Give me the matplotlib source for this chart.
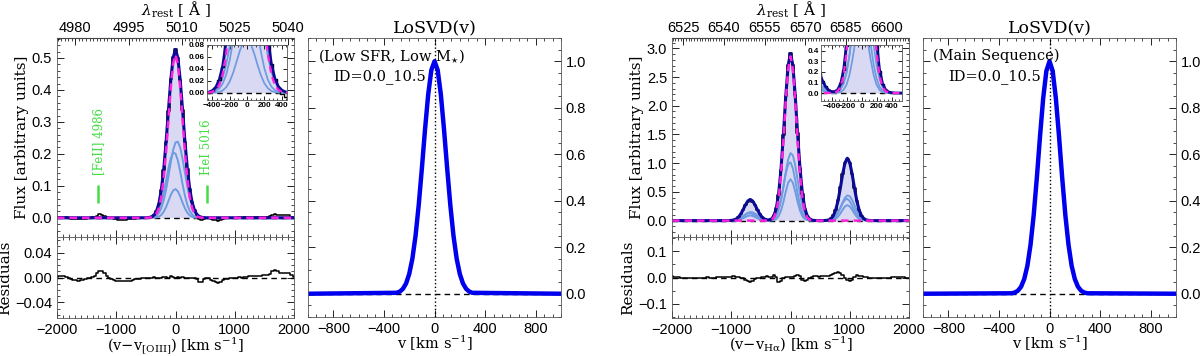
import numpy as np
import matplotlib
matplotlib.use('Agg')
import matplotlib.pyplot as plt
from matplotlib.ticker import MultipleLocator

plt.rcParams['font.family'] = 'Liberation Sans'
plt.rcParams['mathtext.fontset'] = 'dejavuserif'
SERIF = 'DejaVu Serif'

C_KMS = 299792.458

# velocity grid of the spectra and of the line profiles (km/s)
v_grid = np.arange(-2000, 2001, 40)
v_prof = np.arange(-480, 481, 40)

# ---------------- [OIII] panel ----------------
oiii_lam0 = 5008.24
oiii_top_ticks = [4980, 4995, 5010, 5025, 5040]
oiii_comp_a = [0.0005, 0.0017, 0.0048, 0.0125, 0.0296, 0.0638, 0.125, 0.224, 0.363, 0.537, 0.722, 0.882,
               0.982, 0.993, 0.914, 0.766, 0.583, 0.404, 0.255, 0.146, 0.0762, 0.036, 0.0156, 0.0061, 0.0022]
oiii_comp_b = [0.0013, 0.004, 0.0111, 0.0276, 0.0617, 0.125, 0.228, 0.375, 0.558, 0.749, 0.908, 0.993,
               0.980, 0.874, 0.703, 0.510, 0.334, 0.198, 0.106, 0.051, 0.0222, 0.0087, 0.0031, 0.001, 0.0003]
oiii_comp_c = [0.0001, 0.0004, 0.0016, 0.0055, 0.0166, 0.044, 0.102, 0.208, 0.370, 0.579, 0.793, 0.951,
               0.999, 0.920, 0.742, 0.524, 0.325, 0.176, 0.0837, 0.0349, 0.0127, 0.004, 0.0011, 0.0003, 0.0001]
oiii_single = [0.0003, 0.001, 0.0032, 0.0096, 0.0253, 0.060, 0.126, 0.238, 0.399, 0.596, 0.795, 0.944,
               1.0, 0.944, 0.795, 0.596, 0.399, 0.238, 0.126, 0.060, 0.0253, 0.0096, 0.0032, 0.001, 0.0003]
oiii_amps = [0.24, 0.205, 0.09]
oiii_single_amp = 0.51
oiii_resid = [0.001, 0.002, 0.003, 0.002, 0.001, -0.001, -0.003, -0.004, -0.004, -0.005,
              -0.004, -0.004, -0.003, -0.001, 0.000, 0.001, 0.003, 0.007, 0.011, 0.010,
              0.007, 0.003, 0.000, -0.002, -0.004, -0.005, -0.006, -0.006, -0.006, -0.006,
              -0.005, -0.005, -0.004, -0.003, -0.002, -0.002, -0.001, -0.001, 0.000, -0.001,
              0.000, 0.001, 0.000, -0.001, 0.000, 0.001, 0.001, 0.000, 0.002, 0.001,
              0.000, 0.001, 0.000, 0.001, 0.000, -0.001, 0.000, 0.000, -0.001, -0.003,
              -0.007, -0.008, -0.003, -0.001, -0.001, -0.004, -0.006, -0.007, -0.009, -0.007,
              -0.004, -0.002, -0.002, -0.001, -0.001, 0.000, 0.000, 0.001, 0.000, 0.001,
              0.001, 0.002, 0.002, 0.003, 0.002, 0.003, 0.003, 0.004, 0.004, 0.004,
              0.006, 0.010, 0.012, 0.010, 0.008, 0.008, 0.008, 0.008, 0.008, 0.004,
              0.001]
oiii_marks_v = [-1300, 530]
oiii_marks_txt = ['[FeII] 4986', 'HeI 5016']

# ---------------- Halpha panel ----------------
ha_lam0 = 6564.6
ha_top_ticks = [6525, 6540, 6555, 6570, 6585, 6600]
ha_centers = [-680, 0, 960]          # [NII]6548, Halpha, [NII]6583
ha_comp_a = [0.0001, 0.0002, 0.001, 0.0035, 0.0111, 0.031, 0.0756, 0.162, 0.303, 0.497, 0.716, 0.902,
             0.996, 0.9635, 0.817, 0.6065, 0.3946, 0.225, 0.112, 0.0492, 0.0189, 0.0063, 0.0019, 0.0005, 0.0001]
ha_comp_b = [0.0, 0.0002, 0.001, 0.0039, 0.0128, 0.0367, 0.0908, 0.1945, 0.360, 0.578, 0.801, 0.960,
             0.9955, 0.893, 0.693, 0.4647, 0.2696, 0.1353, 0.0588, 0.0221, 0.0072, 0.002, 0.0005, 0.0001, 0.0]
ha_comp_c = [0.0, 0.0, 0.0001, 0.0008, 0.0034, 0.013, 0.0411, 0.109, 0.242, 0.450, 0.701, 0.915,
             1.0, 0.915, 0.701, 0.450, 0.242, 0.109, 0.0411, 0.013, 0.0034, 0.0008, 0.0001, 0.0, 0.0]
ha_single = [0.0, 0.0, 0.0003, 0.0015, 0.006, 0.0198, 0.056, 0.135, 0.278, 0.487, 0.726, 0.923,
             1.0, 0.923, 0.726, 0.487, 0.278, 0.135, 0.056, 0.0198, 0.006, 0.0015, 0.0003, 0.0, 0.0]
ha_amps_a = [0.15, 1.18, 0.44]
ha_amps_b = [0.13, 1.02, 0.38]
ha_amps_c = [0.09, 0.72, 0.27]
ha_single_amp = 2.86
ha_resid = [0.004, 0.003, 0.002, 0.001, 0.000, -0.001, -0.002, -0.003, -0.003, -0.003,
            -0.002, -0.002, -0.001, 0.000, 0.000, 0.001, 0.000, -0.001, 0.000, 0.001,
            0.002, 0.002, 0.001, 0.001, 0.002, 0.003, 0.004, 0.003, 0.001, 0.000,
            -0.002, -0.008, -0.015, -0.018, -0.013, -0.006, -0.002, 0.000, 0.002, 0.003,
            0.004, 0.003, 0.002, 0.008, 0.003, -0.016, -0.012, -0.002, 0.001, 0.002,
            0.003, 0.002, 0.006, 0.010, 0.004, -0.010, -0.015, -0.008, -0.002, 0.002,
            0.004, 0.004, 0.003, 0.004, 0.006, 0.007, 0.006, 0.008, 0.013, 0.019,
            0.021, 0.018, 0.010, 0.000, -0.010, -0.014, -0.008, 0.003, 0.008, 0.007,
            0.006, 0.003, 0.001, 0.000, -0.001, -0.002, -0.002, -0.003, -0.003, -0.002,
            -0.002, -0.001, 0.000, 0.001, 0.002, 0.003, 0.003, 0.002, 0.001, 0.000,
            -0.001]

# ---------------- LoSVD ----------------
losvd_v = [-1000, -300, -275, -250, -225, -200, -175, -150, -125, -100, -75, -50, -25, 0,
           25, 50, 75, 100, 125, 150, 175, 200, 225, 250, 275, 300, 1000]
losvd_low = [0.0, 0.004, 0.009, 0.021, 0.044, 0.085, 0.151, 0.249, 0.381, 0.539, 0.707, 0.857, 0.962, 1.0,
             0.962, 0.857, 0.707, 0.539, 0.381, 0.249, 0.151, 0.085, 0.044, 0.021, 0.009, 0.004, 0.0]
losvd_ms = [0.0, 0.002, 0.005, 0.013, 0.030, 0.063, 0.120, 0.211, 0.339, 0.500, 0.678, 0.841, 0.958, 1.0,
            0.958, 0.841, 0.678, 0.500, 0.339, 0.211, 0.120, 0.063, 0.030, 0.013, 0.005, 0.002, 0.0]

COL_TOT = '#0a0a96'
COL_COMP = '#6f9be0'
COL_FILL = '#d9d9f3'
COL_SINGLE = '#ff22dd'
COL_LOSVD = '#0000ee'
COL_GREEN = '#44dd44'


def place(profile, center, amp):
    out = np.zeros(len(v_grid))
    i = int(round((center - v_grid[0]) / 40))
    n = len(v_prof) // 2
    out[i - n:i + n + 1] += amp * np.asarray(profile)
    return out


def style_ticks(ax, size=10.5):
    ax.tick_params(which='both', direction='in', top=True, right=True, labelsize=size)
    ax.tick_params(which='major', length=5, width=0.6)
    ax.tick_params(which='minor', length=2.5, width=0.5)
    for s in ax.spines.values():
        s.set_linewidth(0.6)
        s.set_color('#555555')


def spectrum_panel(fig, x0, comps, single, resid, lam0, top_ticks, ylim, ymaj, ymin,
                   rlim, rmaj, rmin, xlab, inset_box, inset_xlim, inset_ylim, inset_ymaj):
    ax = fig.add_axes([x0, 0.3343, 0.1975, 0.559])
    axr = fig.add_axes([x0, 0.1067, 0.1975, 0.2276], sharex=ax)
    total = np.sum(comps, axis=0)
    data = total + np.asarray(resid)

    def draw(a, lw=1.0):
        a.fill_between(v_grid, 0, total, color=COL_FILL, lw=0)
        a.axhline(0, color='k', ls='--', lw=1.0, dashes=(4, 3))
        for c in comps:
            a.plot(v_grid, c, color=COL_COMP, lw=1.4 * lw)
        a.step(v_grid, data, where='mid', color='k', lw=1.1 * lw)
        a.plot(v_grid, total, color=COL_TOT, lw=2.2 * lw)
        a.plot(v_grid, single, color=COL_SINGLE, lw=1.8 * lw, ls='--', dashes=(3, 2))

    draw(ax)
    ax.set_xlim(-2000, 2000)
    ax.set_ylim(*ylim)
    ax.yaxis.set_major_locator(MultipleLocator(ymaj))
    ax.yaxis.set_minor_locator(MultipleLocator(ymin))
    ax.xaxis.set_minor_locator(MultipleLocator(100))
    ax.xaxis.set_major_locator(MultipleLocator(1000))
    style_ticks(ax)
    ax.tick_params(axis='x', which='both', top=False, labelbottom=False)
    ax.set_ylabel('Flux [arbitrary units]', family=SERIF, fontsize=11, labelpad=2)

    top = ax.secondary_xaxis('top', functions=(lambda v: lam0 * (1 + v / C_KMS),
                                               lambda l: (l / lam0 - 1) * C_KMS))
    top.set_xticks(top_ticks)
    top.xaxis.set_minor_locator(MultipleLocator(1))
    top.tick_params(which='both', direction='in', labelsize=10.5, pad=2)
    top.tick_params(which='major', length=5, width=0.6)
    top.tick_params(which='minor', length=2.5, width=0.5)
    top.set_xlabel(r'$\lambda_{\rm rest}$ [ $\rm\AA$ ]', family=SERIF, fontsize=11, labelpad=4)

    axr.step(v_grid, resid, where='mid', color='k', lw=1.1)
    axr.axhline(0, color='k', ls='--', lw=1.0, dashes=(4, 3))
    axr.set_ylim(*rlim)
    axr.yaxis.set_major_locator(MultipleLocator(rmaj))
    axr.yaxis.set_minor_locator(MultipleLocator(rmin))
    style_ticks(axr)
    axr.set_ylabel('Residuals', family=SERIF, fontsize=11, labelpad=2)
    axr.set_xlabel(xlab, family=SERIF, fontsize=10.5, labelpad=-1.5)

    axi = fig.add_axes(inset_box)
    draw(axi, lw=0.9)
    axi.set_xlim(*inset_xlim)
    axi.set_ylim(*inset_ylim)
    axi.xaxis.set_major_locator(MultipleLocator(200))
    axi.xaxis.set_minor_locator(MultipleLocator(50))
    axi.yaxis.set_major_locator(MultipleLocator(inset_ymaj))
    style_ticks(axi, size=5.8)
    axi.tick_params(which='major', length=3)
    axi.tick_params(which='minor', length=1.5)
    for t in axi.get_xticklabels() + axi.get_yticklabels():
        t.set_fontweight('bold')
    axi.tick_params(pad=1.5)
    return ax


def losvd_panel(fig, x0, vals, label):
    ax = fig.add_axes([x0, 0.1096, 0.2108, 0.7837])
    ax.axhline(0, color='k', ls='--', lw=1.0, dashes=(4, 3))
    ax.axvline(0, color='k', ls=':', lw=1.0)
    ax.plot(losvd_v, vals, color=COL_LOSVD, lw=3.2)
    ax.set_xlim(-1000, 1000)
    ax.set_ylim(-0.1, 1.1)
    ax.xaxis.set_major_locator(MultipleLocator(400))
    ax.xaxis.set_minor_locator(MultipleLocator(400 / 6))
    ax.yaxis.set_major_locator(MultipleLocator(0.2))
    ax.yaxis.set_minor_locator(MultipleLocator(0.05))
    style_ticks(ax)
    ax.tick_params(axis='y', labelleft=False, labelright=True)
    ax.set_xlabel(r'v [km s$^{-1}$]', family=SERIF, fontsize=10.5, labelpad=-1.5)
    ax.set_title('LoSVD(v)', family=SERIF, fontsize=12.5, pad=3)
    ax.text(0.04, 0.935, label, transform=ax.transAxes, family=SERIF, fontsize=10.5, va='center')
    ax.text(0.10, 0.86, 'ID=0.0_10.5', transform=ax.transAxes, family=SERIF, fontsize=10.5, va='center')


fig = plt.figure(figsize=(12, 3.56), dpi=100)

oiii_comps = [place(p, 0, a) for p, a in zip([oiii_comp_a, oiii_comp_b, oiii_comp_c], oiii_amps)]
oiii_sing = place(oiii_single, 0, oiii_single_amp)
ax1 = spectrum_panel(fig, 0.0475, oiii_comps, oiii_sing, oiii_resid, oiii_lam0, oiii_top_ticks,
                     (-0.06, 0.5625), 0.1, 0.02, (-0.065, 0.065), 0.04, 0.01,
                     r'(v$-$v$_{\rm [OIII]}$) [km s$^{-1}$]',
                     [0.1725, 0.7191, 0.0667, 0.1545], (-460, 460), (-0.012, 0.08), 0.02)
ax1.yaxis.set_major_formatter(plt.FormatStrFormatter('%.1f'))
for v, txt in zip(oiii_marks_v, oiii_marks_txt):
    ax1.vlines(v, 0.047, 0.103, color=COL_GREEN, lw=1.8)
    ax1.text(v, 0.135, txt, rotation=90, color=COL_GREEN, family=SERIF, fontsize=8.5,
             ha='center', va='bottom')

ha_comps = []
for p, amps in zip([ha_comp_a, ha_comp_b, ha_comp_c], [ha_amps_a, ha_amps_b, ha_amps_c]):
    ha_comps.append(sum(place(p, c, a) for c, a in zip(ha_centers, amps)))
ha_sing = place(ha_single, ha_centers[1], ha_single_amp)
ax2 = spectrum_panel(fig, 0.56, ha_comps, ha_sing, ha_resid, ha_lam0, ha_top_ticks,
                     (-0.285, 3.18), 0.5, 0.1, (-0.155, 0.155), 0.1, 0.05,
                     r'(v$-$v$_{\rm H\alpha}$) [km s$^{-1}$]',
                     [0.6842, 0.7163, 0.0675, 0.1573], (-540, 540), (-0.076, 0.457), 0.1)

losvd_panel(fig, 0.2567, losvd_low, r'(Low SFR, Low M$_{\star}$)')
losvd_panel(fig, 0.7692, losvd_ms, '(Main Sequence)')

fig.savefig('out.png', dpi=100)
